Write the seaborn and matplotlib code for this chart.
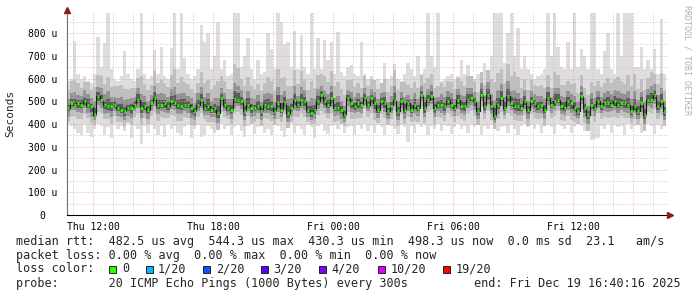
import numpy as np
import pandas as pd
import matplotlib
matplotlib.use("Agg")
import matplotlib.pyplot as plt
from matplotlib.patches import Rectangle
from matplotlib.transforms import ScaledTranslation
import seaborn as sns

# ---------------- data (µs), one value per 10-minute step ----------------
start_hour = 10 + 40 / 60          # Thu 10:40 (hours since Thu 00:00)
step_minutes = 10

median_us = [470, 492, 485, 492, 485, 500, 485, 478, 441, 522, 507, 485, 478, 478, 485, 470, 463, 456, 470, 470,
             485, 507, 470, 478, 463, 492, 514, 485, 485, 492, 478, 500, 492, 485, 478, 485, 485, 470, 456, 485,
             507, 470, 478, 463, 470, 448, 514, 485, 470, 463, 512, 507, 500, 456, 485, 470, 470, 478, 456, 485,
             478, 478, 456, 492, 463, 492, 448, 470, 507, 485, 507, 500, 463, 448, 463, 500, 529, 500, 485, 514,
             470, 470, 463, 441, 514, 492, 478, 492, 485, 514, 485, 514, 492, 463, 500, 492, 456, 478, 507, 456,
             500, 463, 492, 463, 485, 470, 529, 470, 507, 522, 470, 485, 485, 478, 500, 485, 470, 507, 478, 478,
             507, 514, 500, 456, 529, 478, 529, 478, 434, 485, 514, 470, 522, 492, 478, 478, 470, 500, 463, 500,
             492, 478, 485, 463, 514, 485, 500, 507, 478, 470, 500, 492, 470, 456, 522, 470, 441, 485, 470, 500,
             478, 492, 492, 485, 500, 485, 492, 492, 485, 456, 478, 456, 492, 441, 507, 507, 529, 478, 500, 456]

max_us = [590, 600, 765, 620, 600, 610, 590, 580, 620, 782, 650, 755, 900, 640, 600, 590, 610, 720, 620, 600,
          590, 640, 900, 620, 600, 610, 727, 620, 740, 610, 600, 735, 900, 640, 900, 690, 620, 600, 610, 640,
          835, 760, 800, 640, 700, 850, 640, 680, 610, 620, 900, 900, 650, 700, 780, 640, 600, 680, 620, 630,
          800, 730, 640, 900, 850, 750, 760, 650, 810, 640, 790, 650, 620, 900, 640, 780, 640, 770, 680, 760,
          620, 805, 630, 610, 650, 660, 620, 610, 760, 620, 600, 610, 590, 600, 580, 670, 600, 610, 665, 600,
          590, 620, 670, 640, 610, 700, 620, 640, 900, 700, 650, 900, 590, 600, 610, 620, 600, 610, 680, 620,
          660, 610, 600, 620, 610, 670, 630, 700, 900, 900, 900, 670, 800, 900, 700, 820, 640, 700, 640, 620,
          600, 610, 620, 640, 900, 700, 900, 740, 650, 640, 760, 640, 900, 650, 730, 700, 640, 900, 900, 640,
          620, 720, 800, 640, 620, 900, 700, 900, 900, 900, 650, 650, 740, 640, 680, 640, 730, 620, 860, 620]

min_us = [400, 390, 380, 360, 350, 395, 360, 345, 380, 400, 390, 350, 385, 340, 395, 380, 390, 370, 400, 340,
          390, 380, 310, 390, 360, 395, 380, 350, 390, 345, 400, 380, 390, 360, 350, 385, 395, 340, 380, 395,
          345, 350, 390, 380, 360, 395, 400, 380, 390, 350, 385, 395, 370, 345, 390, 400, 355, 385, 395, 360,
          380, 350, 395, 390, 370, 345, 385, 400, 360, 390, 380, 350, 395, 385, 340, 390, 400, 370, 355, 390,
          395, 380, 400, 360, 385, 390, 350, 395, 380, 400, 370, 390, 360, 395, 385, 350, 400, 390, 380, 355,
          395, 385, 320, 390, 360, 400, 385, 395, 350, 390, 380, 400, 370, 395, 390, 355, 385, 400, 380, 390,
          360, 395, 385, 400, 350, 390, 380, 395, 400, 370, 385, 390, 360, 395, 380, 350, 390, 400, 385, 395,
          380, 400, 360, 390, 395, 385, 355, 400, 390, 380, 395, 360, 385, 400, 390, 370, 395, 330, 335, 340,
          390, 380, 400, 360, 395, 385, 390, 350, 400, 380, 390, 395, 360, 385, 400, 390, 355, 395, 380, 390]

# spread of the smoke layers above / below the median (µs)
outer_above = [80, 95, 110, 90, 75, 85, 100, 70, 120, 95, 105, 90, 130, 85, 80, 95, 110, 100, 85, 90,
               75, 95, 140, 100, 85, 80, 120, 95, 110, 90, 85, 115, 150, 95, 130, 100, 90, 85, 80, 95,
               120, 110, 115, 90, 100, 140, 95, 105, 85, 90, 150, 140, 100, 110, 120, 95, 85, 100, 90, 95,
               130, 110, 90, 150, 140, 115, 120, 95, 130, 90, 125, 100, 85, 140, 95, 115, 90, 110, 100, 120,
               95, 115, 90, 85, 80, 100, 85, 90, 75, 95, 80, 85, 100, 90, 80, 105, 85, 90, 130, 95,
               85, 120, 80, 95, 100, 90, 85, 110, 95, 100, 90, 80, 95, 85, 90, 100, 85, 95, 110, 90,
               105, 95, 90, 85, 100, 95, 110, 120, 150, 140, 130, 110, 140, 120, 150, 130, 90, 100, 85, 95,
               80, 90, 85, 95, 100, 75, 130, 110, 95, 100, 90, 85, 110, 80, 95, 90, 85, 100, 95, 90,
               85, 90, 110, 95, 100, 120, 95, 85, 130, 110, 140, 100, 105, 110, 95, 120, 90, 100, 125, 90]
outer_below = [55, 60, 50, 70, 65, 55, 60, 75, 45, 70, 60, 65, 55, 80, 50, 60, 55, 70, 60, 75,
               55, 60, 75, 50, 65, 55, 60, 70, 55, 65, 50, 60, 55, 70, 65, 55, 60, 75, 65, 55,
               60, 50, 70, 55, 65, 75, 60, 55, 50, 65, 70, 55, 60, 65, 50, 70, 60, 55, 65, 60,
               55, 65, 60, 70, 55, 50, 65, 60, 75, 55, 60, 70, 55, 50, 65, 60, 70, 55, 60, 65,
               60, 55, 65, 50, 60, 70, 55, 65, 60, 50, 55, 65, 75, 60, 55, 65, 60, 55, 50, 65,
               55, 65, 60, 55, 70, 60, 50, 65, 55, 60, 70, 55, 60, 65, 50, 55, 60, 70, 55, 65,
               60, 55, 65, 60, 50, 55, 70, 60, 55, 65, 60, 50, 75, 55, 60, 65, 55, 60, 70, 55,
               65, 55, 60, 70, 55, 60, 65, 50, 60, 55, 65, 75, 60, 55, 60, 65, 70, 55, 60, 50,
               55, 60, 65, 55, 70, 60, 55, 65, 60, 50, 55, 60, 65, 70, 55, 60, 65, 55, 60, 65]
mid_above = [40, 45, 55, 35, 40, 50, 45, 35, 60, 40, 50, 45, 65, 40, 35, 45, 55, 50, 40, 45,
             35, 50, 60, 45, 40, 35, 55, 45, 50, 40, 40, 55, 70, 45, 60, 50, 40, 45, 35, 50,
             55, 50, 60, 40, 45, 65, 45, 50, 40, 45, 70, 60, 50, 55, 60, 45, 40, 50, 40, 45,
             60, 55, 40, 70, 65, 55, 60, 45, 60, 40, 55, 50, 40, 65, 45, 55, 40, 50, 45, 55,
             45, 55, 40, 40, 35, 50, 40, 45, 35, 45, 40, 40, 50, 45, 35, 50, 40, 45, 60, 45,
             40, 55, 35, 45, 50, 40, 40, 50, 45, 50, 45, 35, 45, 40, 45, 50, 40, 45, 50, 45,
             50, 45, 40, 40, 50, 45, 55, 55, 70, 65, 60, 50, 65, 55, 70, 60, 45, 50, 40, 45,
             40, 45, 40, 45, 50, 35, 60, 50, 45, 50, 45, 40, 55, 40, 45, 45, 40, 50, 45, 45,
             40, 45, 55, 45, 50, 60, 45, 40, 60, 55, 65, 50, 50, 55, 45, 60, 45, 50, 60, 45]
mid_below = [35, 30, 25, 40, 35, 30, 35, 45, 25, 40, 35, 40, 30, 45, 30, 35, 30, 40, 35, 45,
             30, 35, 45, 30, 40, 30, 35, 40, 30, 40, 30, 35, 30, 40, 35, 30, 35, 45, 40, 30,
             35, 30, 40, 30, 40, 45, 35, 30, 30, 40, 40, 30, 35, 40, 30, 40, 35, 30, 40, 35,
             30, 40, 35, 40, 30, 30, 40, 35, 45, 30, 35, 40, 30, 30, 40, 35, 40, 30, 35, 40,
             35, 30, 40, 30, 35, 40, 30, 40, 35, 30, 30, 40, 45, 35, 30, 40, 35, 30, 30, 40,
             30, 40, 35, 30, 40, 35, 30, 40, 30, 35, 40, 30, 35, 40, 30, 30, 35, 40, 30, 40,
             35, 30, 40, 35, 30, 30, 40, 35, 30, 40, 35, 30, 45, 30, 35, 40, 30, 35, 40, 30,
             40, 30, 35, 40, 30, 35, 40, 30, 35, 30, 40, 45, 35, 30, 35, 40, 40, 30, 35, 30,
             30, 35, 40, 30, 40, 35, 30, 40, 35, 30, 30, 35, 40, 40, 30, 35, 40, 30, 35, 40]
core_above = [15, 20, 25, 15, 20, 15, 25, 10, 30, 20, 20, 15, 30, 20, 15, 20, 25, 20, 15, 20,
              15, 25, 30, 20, 15, 15, 25, 20, 20, 15, 20, 25, 35, 20, 30, 25, 15, 20, 15, 20,
              25, 20, 30, 15, 20, 30, 20, 25, 15, 20, 35, 30, 20, 25, 30, 20, 15, 25, 15, 20,
              30, 25, 15, 35, 30, 25, 30, 20, 25, 15, 25, 20, 15, 30, 20, 25, 15, 20, 20, 25,
              20, 25, 15, 15, 15, 20, 15, 20, 15, 20, 15, 15, 25, 20, 15, 25, 15, 20, 30, 20,
              15, 25, 15, 20, 25, 15, 15, 25, 20, 25, 20, 15, 20, 15, 20, 25, 15, 20, 25, 20,
              25, 20, 15, 15, 25, 20, 25, 25, 35, 30, 30, 25, 30, 25, 35, 30, 20, 25, 15, 20,
              15, 20, 15, 20, 25, 15, 30, 25, 20, 25, 20, 15, 25, 15, 20, 20, 15, 25, 20, 20,
              15, 20, 25, 20, 25, 30, 20, 15, 30, 25, 30, 25, 25, 25, 20, 30, 20, 25, 30, 20]
core_below = [15, 15, 10, 20, 15, 15, 15, 25, 10, 20, 15, 20, 15, 20, 15, 15, 15, 20, 15, 25,
              15, 15, 20, 15, 20, 15, 15, 20, 15, 20, 15, 15, 15, 20, 15, 15, 15, 25, 20, 15,
              15, 15, 20, 15, 20, 20, 15, 15, 15, 20, 20, 15, 15, 20, 15, 20, 15, 15, 20, 15,
              15, 20, 15, 20, 15, 15, 20, 15, 25, 15, 15, 20, 15, 15, 20, 15, 20, 15, 15, 20,
              15, 15, 20, 15, 15, 20, 15, 20, 15, 15, 15, 20, 25, 15, 15, 20, 15, 15, 15, 20,
              15, 20, 15, 15, 20, 15, 15, 20, 15, 15, 20, 15, 15, 20, 15, 15, 15, 20, 15, 20,
              15, 15, 20, 15, 15, 15, 20, 15, 15, 20, 15, 15, 25, 15, 15, 20, 15, 15, 20, 15,
              20, 15, 15, 20, 15, 15, 20, 15, 15, 15, 20, 25, 15, 15, 15, 20, 20, 15, 15, 15,
              15, 15, 20, 15, 20, 15, 15, 20, 15, 15, 15, 15, 20, 20, 15, 15, 20, 15, 15, 20]

x_tick_hours = [12, 18, 24, 30, 36]
x_tick_labels = ["Thu 12:00", "Thu 18:00", "Fri 00:00", "Fri 06:00", "Fri 12:00"]
y_tick_values = [0, 100, 200, 300, 400, 500, 600, 700, 800]
y_tick_labels = ["0", "100 u", "200 u", "300 u", "400 u", "500 u", "600 u", "700 u", "800 u"]

rtt_stats = ["482.5", "544.3", "430.3", "498.3"]
rtt_sd = "0.0"
rtt_ams = "23.1"
loss_stats = ["0.00", "0.00", "0.00", "0.00"]
loss_labels = ["0", "1/20", "2/20", "3/20", "4/20", "10/20", "19/20"]
loss_colors = ["#26ff00", "#00b8ff", "#0059ff", "#5e00ff", "#7e00ff", "#dd00ff", "#ff0000"]
probe_text = "20 ICMP Echo Pings (1000 Bytes) every 300s"
end_text = "end: Fri Dec 19 16:40:16 2025"

# ---------------- figure ----------------
sns.set_theme(style="white")
plt.rcParams['font.family'] = ['DejaVu Sans Mono', 'DejaVu Sans']

W, H = 697, 297
fig = plt.figure(figsize=(W / 100, H / 100), dpi=100, facecolor="white")
ax = fig.add_axes([67 / W, 1 - 215 / H, 601 / W, 202 / H], facecolor="white")

n = min(map(len, [median_us, max_us, min_us, outer_above, outer_below,
                  mid_above, mid_below, core_above, core_below]))
med = np.array(median_us[:n], float)
step_h = step_minutes / 60
x_edges = start_hour + np.arange(n + 1) * step_h
df = pd.DataFrame({"t": x_edges[:-1], "median": med})


def ext(a):
    a = np.asarray(a, float)
    return np.append(a, a[-1])


hi2 = med + np.array(outer_above[:n]); lo2 = med - np.array(outer_below[:n])
hi3 = med + np.array(mid_above[:n]); lo3 = med - np.array(mid_below[:n])
hi4 = med + np.array(core_above[:n]); lo4 = med - np.array(core_below[:n])
hi1 = np.maximum(np.array(max_us[:n], float), hi2)
lo1 = np.minimum(np.array(min_us[:n], float), lo2)

layers = [(lo1, hi1, "#dddddd"), (lo2, hi2, "#bfbfbf"),
          (lo3, hi3, "#939393"), (lo4, hi4, "#5c5c5c")]
for lo, hi, c in layers:
    ax.fill_between(x_edges, ext(lo), ext(hi), step="post", color=c, lw=0, zorder=1)

sns.lineplot(data=df, x="t", y="median", drawstyle="steps-post", color="#1a1a1a",
             lw=0.8, ax=ax, zorder=3, estimator=None, sort=False)
ax.hlines(med, x_edges[:-1] + 0.15 * step_h, x_edges[1:] - 0.1 * step_h,
          colors=loss_colors[0], lw=2.0, zorder=4)

ax.set_xlim(10.7, 40.75)
ax.set_ylim(0, 888)
ax.set_xlabel("")
ax.set_ylabel("")

major_x = np.arange(12, 41, 3)
lab_map = dict(zip(x_tick_hours, x_tick_labels))
ax.set_xticks(major_x)
ax.set_xticklabels([lab_map.get(h, "") for h in major_x])
ax.set_xticks(np.arange(11, 41, 1), minor=True)
ax.set_yticks(y_tick_values)
ax.set_yticklabels(y_tick_labels)
ax.set_yticks(np.arange(50, 851, 100), minor=True)

ax.set_axisbelow(False)
ax.grid(which="major", color="#e8a0a0", linestyle=(0, (1, 2)), lw=0.72)
ax.grid(which="minor", color="#c4c4c4", linestyle=(0, (1, 2)), lw=0.72)

ax.tick_params(axis="x", which="major", length=2, width=0.72, color="#e08080",
               pad=3, labelsize=7, labelcolor="black")
ax.tick_params(axis="y", which="major", length=3, width=0.72, color="#e08080",
               pad=4, labelsize=7, labelcolor="black")
ax.tick_params(which="minor", length=0)

# rrdtool pads "0" as if it had the unit column ("  0  ")
zero_lab = ax.get_yticklabels()[0]
zero_lab.set_transform(zero_lab.get_transform() + ScaledTranslation(-12 / 100, 0, fig.dpi_scale_trans))

for s in ["top", "right"]:
    ax.spines[s].set_visible(False)
ax.spines["left"].set_color("#707070")
ax.spines["left"].set_linewidth(0.8)
ax.spines["bottom"].set_color("black")
ax.spines["bottom"].set_linewidth(0.8)
ax.spines["left"].set_zorder(5)
ax.spines["bottom"].set_zorder(5)

# axis arrows
ax.plot([0], [(215 - 10) / 202], marker="^", ms=4, color="#8b1a1a", transform=ax.transAxes,
        clip_on=False, zorder=6)
ax.plot([(670 - 67) / 601], [0], marker=">", ms=4, color="#8b1a1a", transform=ax.transAxes,
        clip_on=False, zorder=6)


def fx(px):
    return px / W


def fy(py):
    return 1 - py / H


fig.text(fx(10), fy(113), "Seconds", rotation=90, ha="center", va="center", fontsize=8)
fig.text(fx(687), fy(60), "RRDTOOL / TOBI OETIKER", rotation=270, ha="center", va="center",
         fontsize=6, color="#b0b0b0")

LF = 8.5
line1 = ("median rtt:  {} us avg  {} us max  {} us min  {} us now  {} ms sd  {}   am/s"
         .format(rtt_stats[0], rtt_stats[1], rtt_stats[2], rtt_stats[3], rtt_sd, rtt_ams))
line2 = ("packet loss: {} % avg  {} % max  {} % min  {} % now"
         .format(*loss_stats))
fig.text(fx(16), fy(241), line1, ha="left", va="center", fontsize=LF)
fig.text(fx(16), fy(255.5), line2, ha="left", va="center", fontsize=LF)
fig.text(fx(16), fy(269), "loss color:", ha="left", va="center", fontsize=LF)
sq_x = [109, 146, 203, 261, 319, 378, 443]
lab_x = [122, 158, 216, 273, 331, 391, 456]
for sx, lx, lab, col in zip(sq_x, lab_x, loss_labels, loss_colors):
    fig.patches.append(Rectangle((fx(sx), fy(272.5)), 7 / W, 7 / H, transform=fig.transFigure,
                                 facecolor=col, edgecolor="#222222", lw=0.7))
    fig.text(fx(lx), fy(269), lab, ha="left", va="center", fontsize=LF)
fig.text(fx(16), fy(283.5), "probe:       " + probe_text, ha="left", va="center", fontsize=LF)
fig.text(fx(681), fy(283.5), end_text, ha="right", va="center", fontsize=LF)

fig.savefig("out.png", dpi=100, facecolor="white")
